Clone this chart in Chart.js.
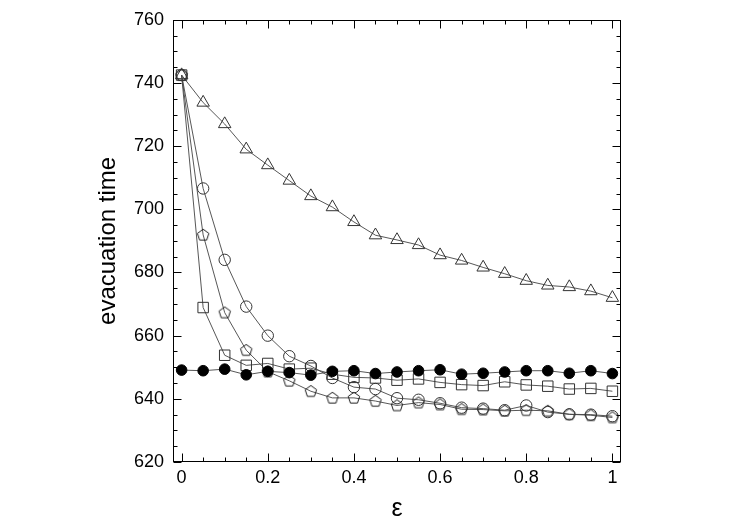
<!DOCTYPE html>
<html><head><meta charset="utf-8">
<script src="https://cdn.jsdelivr.net/npm/chart.js@4.4.1/dist/chart.umd.min.js"></script>
<style>html,body{margin:0;padding:0;background:#fff}#wrap{width:750px;height:525px}</style>
</head><body><div id="wrap"><canvas id="c" width="750" height="525"></canvas></div>
<script>
const epsilonValues = [0,0.05,0.1,0.15,0.2,0.25,0.3,0.35,0.4,0.45,0.5,0.55,0.6,0.65,0.7,0.75,0.8,0.85,0.9,0.95,1];
const filledCircles = [649.1,648.9,649.4,647.6,648.7,648.3,647.5,648.7,648.9,648.0,648.5,648.9,649.2,647.8,648.1,648.5,648.9,648.9,648.1,648.9,648.0];
const squares     = [742.5,668.9,653.8,650.6,651.2,649.4,649.7,647.8,646.8,646.6,645.9,646.3,645.2,644.5,644.2,645.4,644.4,644.0,643.1,643.3,642.4];
const circles     = [742.5,706.6,684.0,669.2,660.0,653.5,650.4,646.6,643.7,643.1,640.2,639.7,638.6,637.2,636.9,636.4,637.9,635.8,635.1,635.0,634.5];
const pentagons   = [742.5,691.9,667.3,655.4,648.6,645.7,642.4,640.3,640.3,639.3,637.9,638.8,638.2,636.7,636.6,636.2,636.4,636.2,635.1,634.8,634.1];
const triangles   = [742.5,733.8,727.0,719.0,714.0,709.1,704.2,700.7,696.0,691.8,690.3,688.7,685.5,683.8,681.6,679.6,677.4,675.9,675.4,674.1,672.0];

const xTickValues = [0,0.2,0.4,0.6,0.8,1];
const xTickLabels = ['0','0.2','0.4','0.6','0.8','1'];
const yTickValues = [620,640,660,680,700,720,740,760];
const yTickLabels = ['620','640','660','680','700','720','740','760'];
const xTitle = 'ε';
const yTitle = 'evacuation time';

const FONT = "'Liberation Sans', Arial, Helvetica, sans-serif";
const MARK = '#333';
const LINE = '#444';

// pentagon marker image
const pent = document.createElement('canvas');
pent.width = 16; pent.height = 16;
(function(){
  const c = pent.getContext('2d');
  const r = 6.0, cx = 8, cy = 8.3;
  c.beginPath();
  for (let k = 0; k < 5; k++) {
    const a = -Math.PI/2 + k*2*Math.PI/5;
    const px = cx + r*Math.cos(a), py = cy + r*Math.sin(a);
    if (k === 0) c.moveTo(px, py); else c.lineTo(px, py);
  }
  c.closePath();
  c.strokeStyle = '#1e1e1e'; c.lineWidth = 1; c.stroke();
})();

const pts = arr => epsilonValues.map((e, i) => ({x: e, y: arr[i]}));

const framePlugin = {
  id: 'frame',
  afterDatasetsDraw(chart) {
    const {ctx, chartArea: a, scales: {x, y}} = chart;
    ctx.save();
    ctx.strokeStyle = '#000';
    ctx.lineWidth = 1;
    const L = Math.round(a.left) + 0.5, R = Math.round(a.right) - 0.5;
    const T = Math.round(a.top) + 0.5, B = Math.round(a.bottom) - 0.5;
    ctx.beginPath();
    const xt = (v, len) => {
      const p = Math.round(x.getPixelForValue(v)) + 0.5;
      ctx.moveTo(p, B); ctx.lineTo(p, B - len);
      ctx.moveTo(p, T); ctx.lineTo(p, T + len);
    };
    const yt = (v, len) => {
      const p = Math.round(y.getPixelForValue(v)) + 0.5;
      ctx.moveTo(L, p); ctx.lineTo(L + len, p);
      ctx.moveTo(R, p); ctx.lineTo(R - len, p);
    };
    xTickValues.forEach((v, i) => {
      xt(v, 8);
      if (i < xTickValues.length - 1) {
        const step = (xTickValues[i+1] - v) / 4;
        for (let k = 1; k < 4; k++) xt(v + k*step, 4);
      }
    });
    yTickValues.forEach((v, i) => {
      yt(v, 8);
      if (i < yTickValues.length - 1) {
        const step = (yTickValues[i+1] - v) / 4;
        for (let k = 1; k < 4; k++) yt(v + k*step, 4);
      }
    });
    ctx.stroke();
    ctx.strokeRect(L, T, R - L, B - T);
    ctx.restore();
  }
};

const common = {showLine: true, borderColor: LINE, borderWidth: 0.9, tension: 0, pointBorderWidth: 1, pointBorderColor: MARK, pointBackgroundColor: 'rgba(0,0,0,0)'};

new Chart(document.getElementById('c'), {
  type: 'scatter',
  data: {
    datasets: [
      Object.assign({}, common, {label: 'filled', data: pts(filledCircles), pointStyle: 'circle', pointRadius: 5.3, pointBackgroundColor: '#000', pointBorderColor: '#000'}),
      Object.assign({}, common, {label: 'square', data: pts(squares), pointStyle: 'rect', pointRadius: 7.4}),
      Object.assign({}, common, {label: 'circle', data: pts(circles), pointStyle: 'circle', pointRadius: 5.7}),
      Object.assign({}, common, {label: 'pentagon', data: pts(pentagons), pointStyle: pent, pointRadius: 6}),
      Object.assign({}, common, {label: 'triangle', data: pts(triangles), pointStyle: 'triangle', pointRadius: 7.2})
    ]
  },
  options: {
    responsive: false,
    animation: false,
    events: [],
    devicePixelRatio: 1,
    layout: {padding: {left: 96, right: 129, top: 15, bottom: 0}},
    plugins: {legend: {display: false}, tooltip: {enabled: false}},
    scales: {
      x: {
        type: 'linear', min: -0.02, max: 1.02,
        grid: {display: false, drawTicks: false},
        border: {display: false},
        afterBuildTicks: s => { s.ticks = xTickValues.map(v => ({value: v})); },
        afterFit: s => { s.height = 63; },
        ticks: {autoSkip: false, maxRotation: 0, padding: 5, color: '#000',
          font: {family: FONT, size: 18, lineHeight: 1.2},
          callback: (v, i) => xTickLabels[i]},
        title: {display: true, text: xTitle, color: '#000', font: {family: FONT, size: 25, lineHeight: 1}, padding: {top: 0, bottom: 3}}
      },
      y: {
        type: 'linear', min: 620, max: 760,
        grid: {display: false, drawTicks: false},
        border: {display: false},
        afterBuildTicks: s => { s.ticks = yTickValues.map(v => ({value: v})); },
        afterFit: s => { s.width = 77; },
        ticks: {autoSkip: false, padding: 9, color: '#000',
          font: {family: FONT, size: 18, lineHeight: 1.2},
          callback: (v, i) => yTickLabels[i]},
        title: {display: true, text: yTitle, color: '#000', font: {family: FONT, size: 24, lineHeight: 1}, padding: {top: 0, bottom: 0}}
      }
    }
  },
  plugins: [framePlugin]
});
</script></body></html>
